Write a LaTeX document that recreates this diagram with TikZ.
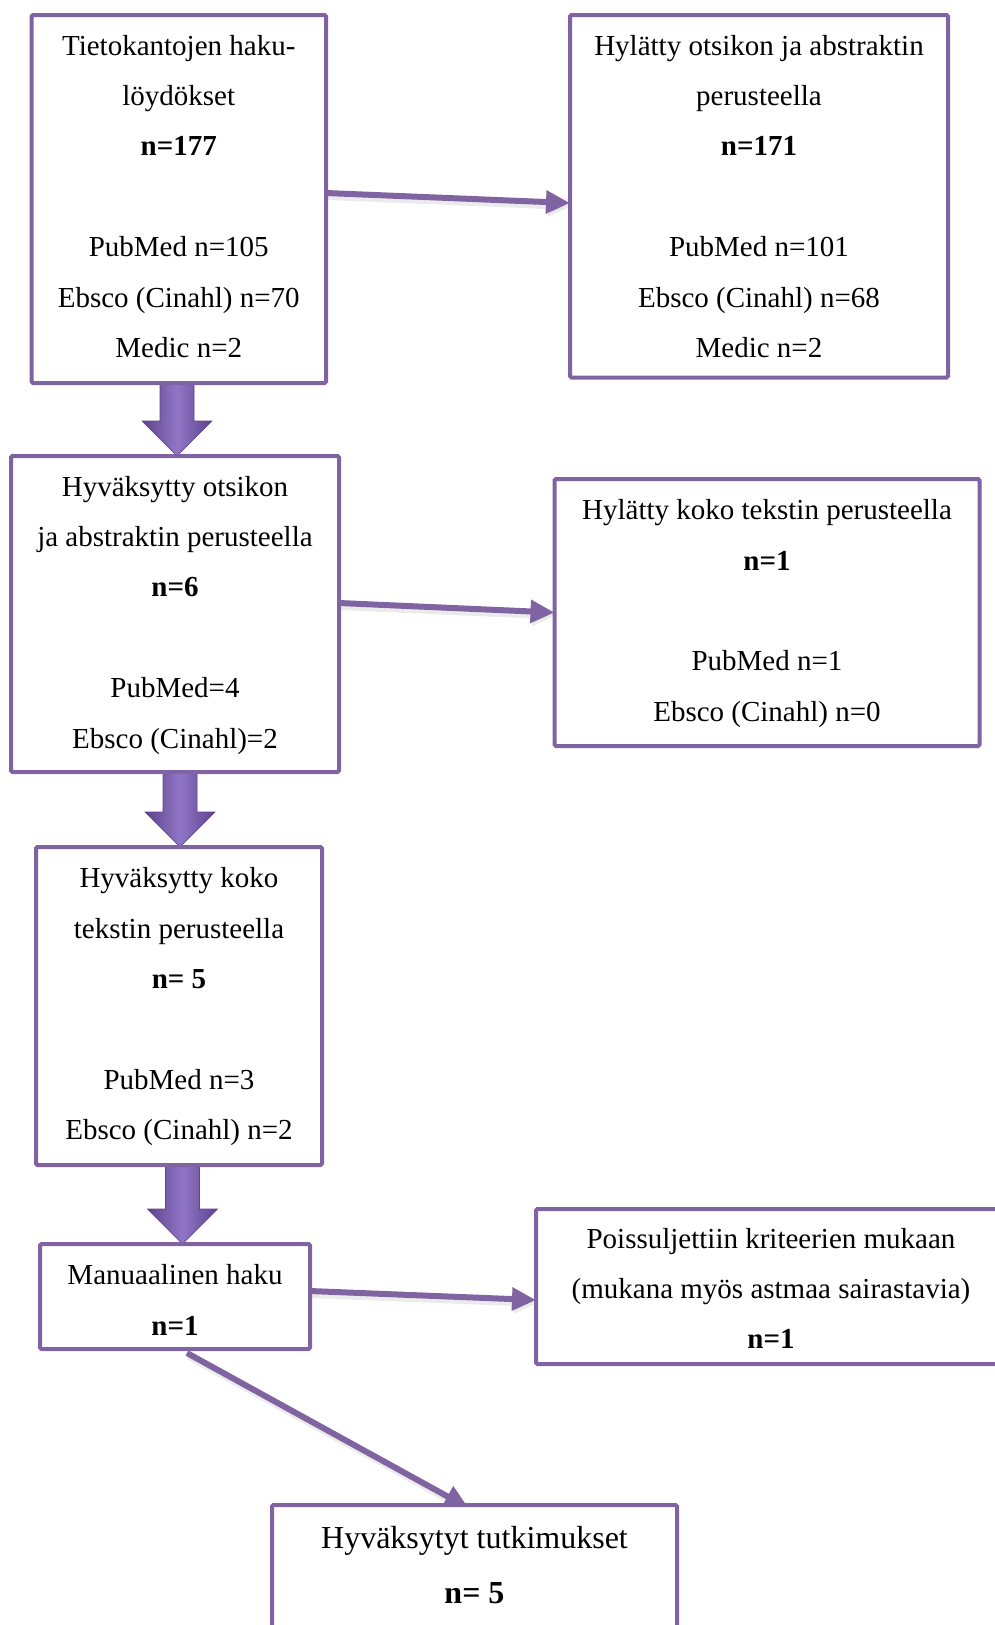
\documentclass[tikz,border=0pt]{standalone}
\usepackage{fontspec}
\setmainfont{Liberation Serif}
\usetikzlibrary{arrows.meta,calc,backgrounds}
\definecolor{boxc}{HTML}{8064A2}
\definecolor{blkdark}{HTML}{5E428C}
\definecolor{blklight}{HTML}{9076C6}
\tikzset{
  boxnode/.style={draw=boxc, line width=4pt, fill=white, inner sep=0pt, outer sep=0pt, rounded corners=1.5pt},
  txt/.style={anchor=north, inner sep=0pt, align=center, font=\fontsize{29}{50.4}\selectfont},
  bigtxt/.style={anchor=north, inner sep=0pt, align=center, font=\fontsize{32}{55}\selectfont},
  conn/.style={draw=boxc, line width=6pt, -{Triangle[length=24pt,width=22pt]}},
  connshadow/.style={draw=black, opacity=0.08, line width=8pt, -{Triangle[length=24pt,width=22pt]}},
  blkshade/.style={left color=blkdark, right color=blkdark, middle color=blklight, draw=blkdark, line width=0.6pt},
}
\newcommand{\blkarrow}[3]{%
  \shade[blkshade] let \p1=(#2.south), \p2=(#3.north) in
    ({#1pt-17pt},\y1) -- ({#1pt+17pt},\y1) -- ({#1pt+17pt},{\y2+35pt})
    -- ({#1pt+35pt},{\y2+35pt}) -- (#1pt,\y2) -- ({#1pt-35pt},{\y2+35pt})
    -- ({#1pt-17pt},{\y2+35pt}) -- cycle;
}
\begin{document}
\begin{tikzpicture}[x=1pt,y=-1pt]
\useasboundingbox (0,0) rectangle (995,1625);
\clip (0,0) rectangle (995,1625);

% boxes
\node[boxnode, minimum width=294.5pt, minimum height=368pt] (b1) at (178.75,199) {};
\node[boxnode, minimum width=378pt, minimum height=362.5pt] (b2) at (759,196.25) {};
\node[boxnode, minimum width=328pt, minimum height=316pt] (b3) at (175,614) {};
\node[boxnode, minimum width=425pt, minimum height=267pt] (b4) at (767,612.5) {};
\node[boxnode, minimum width=286pt, minimum height=318pt] (b5) at (179,1006) {};
\node[boxnode, minimum width=270pt, minimum height=105pt] (b6) at (175,1296.5) {};
\node[boxnode, minimum width=470pt, minimum height=155pt] (b7) at (771,1286.5) {};
\node[boxnode, minimum width=405pt, minimum height=140pt] (b8) at (474.5,1575) {};

% texts
\node[txt] (t1) at ($(b1.north)+(0,4.7)$) {\strut Tietokantojen haku-\\löydökset\\\textbf{n=177}\\[50.4pt]PubMed n=105\\Ebsco (Cinahl) n=70\\Medic n=2};
\node[txt] (t2) at ($(b2.north)+(0,4.7)$) {\strut Hylätty otsikon ja abstraktin\\perusteella\\\textbf{n=171}\\[50.4pt]PubMed n=101\\Ebsco (Cinahl) n=68\\Medic n=2};
\node[txt] (t3) at ($(b3.north)+(0,4.7)$) {\strut Hyväksytty otsikon\\ja abstraktin perusteella\\\textbf{n=6}\\[50.4pt]PubMed=4\\Ebsco (Cinahl)=2};
\node[txt] (t4) at ($(b4.north)+(0,5.2)$) {\strut Hylätty koko tekstin perusteella\\\textbf{n=1}\\[50.4pt]PubMed n=1\\Ebsco (Cinahl) n=0};
\node[txt] (t5) at ($(b5.north)+(0,5.2)$) {\strut Hyväksytty koko\\tekstin perusteella\\\textbf{n= 5}\\[50.4pt]PubMed n=3\\Ebsco (Cinahl) n=2};
\node[txt] (t6) at ($(b6.north)+(0,5.2)$) {\strut Manuaalinen haku\\\textbf{n=1}};
\node[txt] (t7) at ($(b7.north)+(0,3.7)$) {\strut Poissuljettiin kriteerien mukaan\\(mukana myös astmaa sairastavia)\\\textbf{n=1}};
\node[bigtxt] (t8) at ($(b8.north)+(0,4.5)$) {\strut Hyväksytyt tutkimukset\\\textbf{n= 5}};

% connectors behind the boxes
\begin{scope}[on background layer]
  \draw[connshadow] ($(b1.east)+(2,-3)$) -- ($(b2.west)+(2,9.75)$);
  \draw[connshadow] ($(b3.east)+(2,-8)$) -- ($(b4.west)+(2,3)$);
  \draw[connshadow] ($(b6.east)+(2,-2.5)$) -- ($(b7.west)+(2,16.5)$);
  \draw[connshadow] ($(b6.south)+(14,7)$) -- ($(b8.north)+(-4,6)$);
  \draw[conn] ($(b1.east)+(0,-6)$) -- ($(b2.west)+(0,6.75)$);
  \draw[conn] ($(b3.east)+(0,-11)$) -- (b4.west);
  \draw[conn] ($(b6.east)+(0,-5.5)$) -- ($(b7.west)+(0,13.5)$);
  \draw[conn] ($(b6.south)+(12,4)$) -- ($(b8.north)+(-6,3)$);
  \blkarrow{177}{b1}{b3}
  \blkarrow{180}{b3}{b5}
  \blkarrow{182.5}{b5}{b6}
\end{scope}
\end{tikzpicture}
\end{document}
